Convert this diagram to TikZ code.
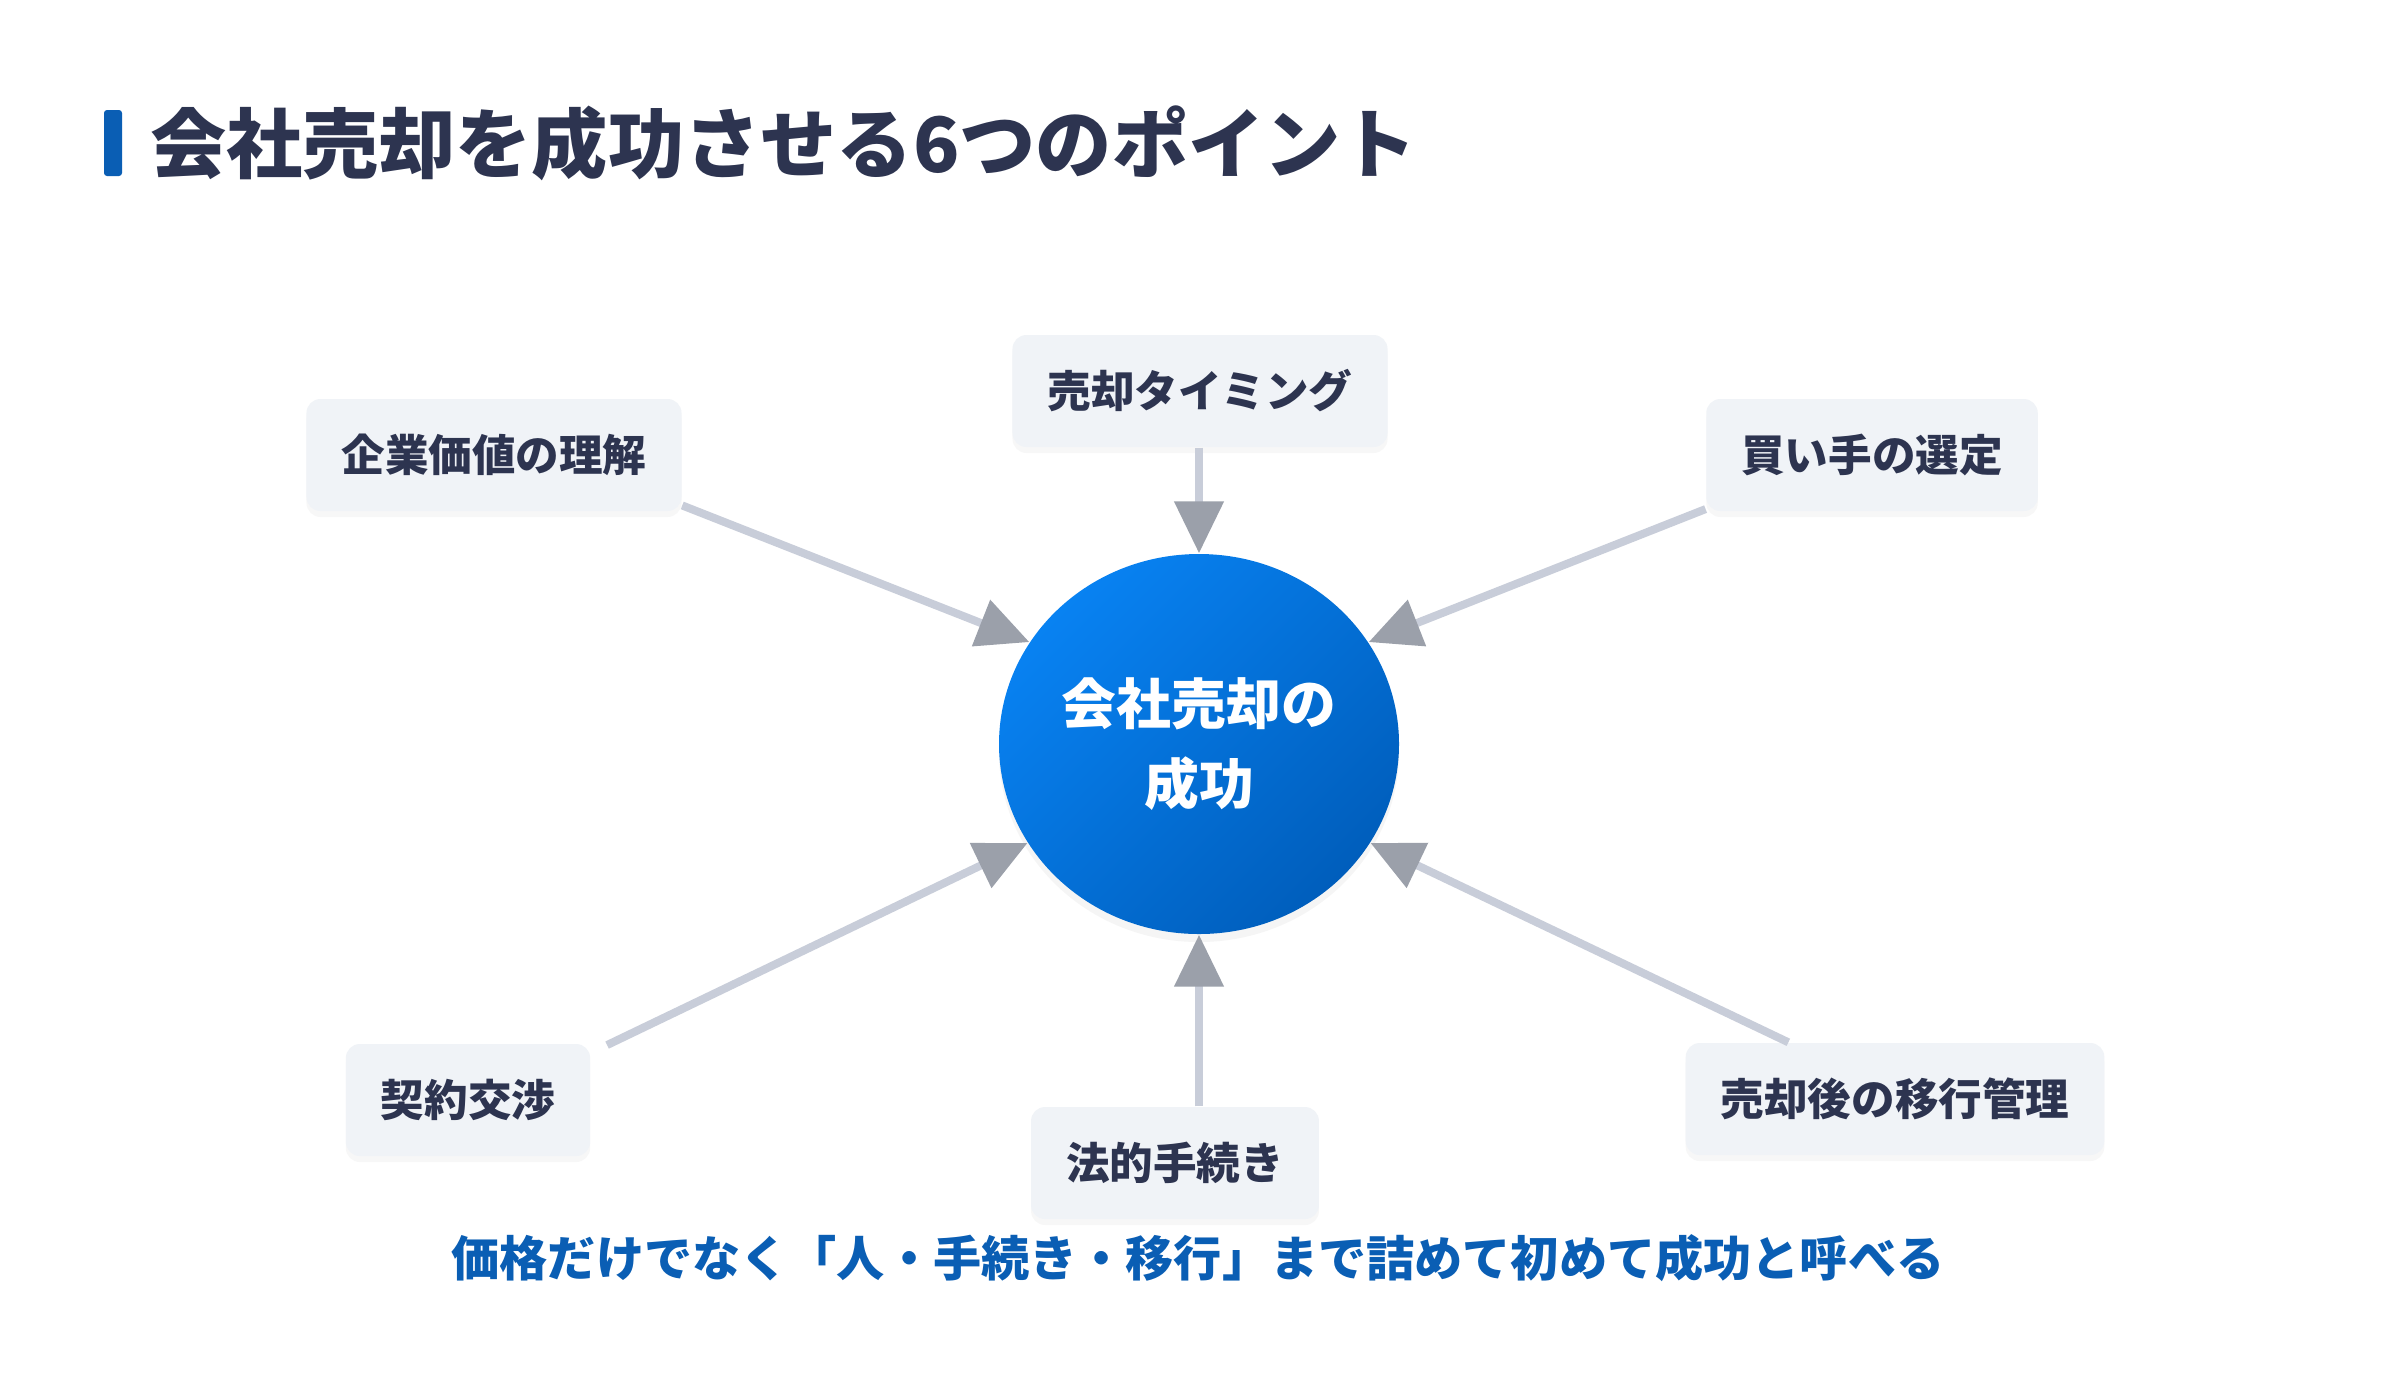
\documentclass[tikz,border=0pt]{standalone}
\usepackage{fontspec}
\setmainfont{Noto Sans CJK JP}
\usetikzlibrary{shapes,arrows.meta,shadows,positioning}

\definecolor{inkNavy}{RGB}{45,52,80}
\definecolor{barBlue}{RGB}{10,94,180}
\definecolor{boxFill}{RGB}{240,243,247}
\definecolor{linkGray}{RGB}{200,205,217}
\definecolor{tipGray}{RGB}{155,160,170}
\definecolor{hubTop}{RGB}{8,130,242}
\definecolor{hubBottom}{RGB}{0,94,188}

\begin{document}
\begin{tikzpicture}[
    point/.style={rectangle, rounded corners=0.14cm, fill=boxFill, text=inkNavy,
      inner xsep=0.35cm, inner ysep=0pt, minimum height=1.12cm,
      font=\fontsize{12.4pt}{15pt}\selectfont\bfseries,
      drop shadow={shadow xshift=0pt, shadow yshift=-0.06cm, opacity=0.06}},
    hub/.style={ellipse, minimum width=4cm, minimum height=3.8cm, inner sep=0pt,
      top color=hubTop, bottom color=hubBottom, shading angle=45, text=white, align=center,
      font=\fontsize{15.6pt}{22.8pt}\selectfont\bfseries,
      drop shadow={shadow xshift=0pt, shadow yshift=-0.08cm, opacity=0.08}},
    link/.style={draw=linkGray, line width=0.08cm,
      -{Triangle[length=0.52cm, width=0.48cm, color=tipGray]}}]
  \useasboundingbox (0,0) rectangle (24,-13.82);
  \fill[white] (0,0) rectangle (24,-13.82);

  % title
  \node[fill=barBlue, rounded corners=0.03cm, minimum width=0.18cm, minimum height=0.66cm, inner sep=0pt] (bar) at (1.13,-1.43) {};
  \node[right=0.27cm of bar, inner sep=0pt, text=inkNavy, font=\fontsize{21.7pt}{26pt}\selectfont\bfseries] (title) {会社売却を成功させる6つのポイント};

  % center
  \node[hub] (hub) at (11.99,-7.44) {会社売却の\\成功};

  % six points
  \node[point] (value)    at (4.94,-4.55)   {企業価値の理解};
  \node[point] (timing)   at (12.00,-3.91)  {売却タイミング};
  \node[point] (buyer)    at (18.72,-4.55)  {買い手の選定};
  \node[point] (contract) at (4.68,-11.00)  {契約交渉};
  \node[point] (legal)    at (11.75,-11.63) {法的手続き};
  \node[point] (after)    at (18.95,-10.99) {売却後の移行管理};

  \draw[link] (value.-15) -- (hub.149);
  \draw[link] (timing.south -| hub.north) -- (hub.north);
  \draw[link] (buyer.198) -- (hub.31);
  \draw[link, shorten <=0.18cm] (contract.21) -- (hub.210);
  \draw[link] (legal.north -| hub.south) -- (hub.south);
  \draw[link] (after.152) -- (hub.-30);

  % message
  \node[text=barBlue, font=\fontsize{13.7pt}{17pt}\selectfont\bfseries] (message) at (11.98,-12.58)
    {価格だけでなく「人・手続き・移行」まで詰めて初めて成功と呼べる};
\end{tikzpicture}
\end{document}
